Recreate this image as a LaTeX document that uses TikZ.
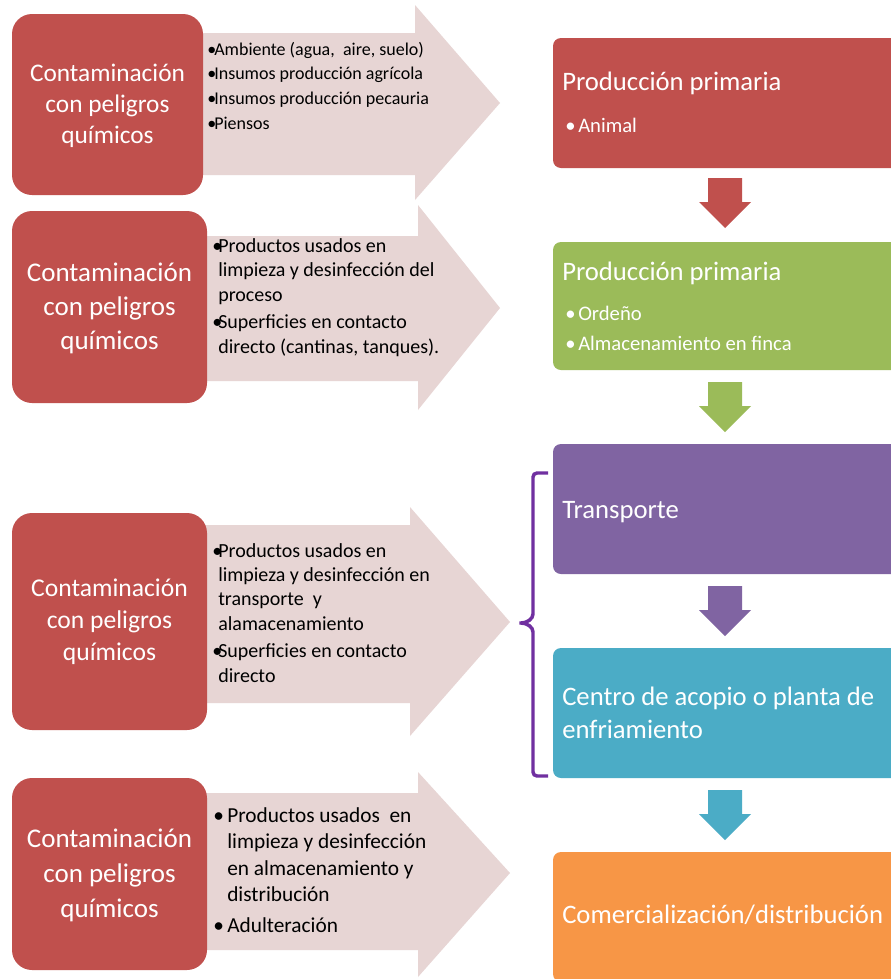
\documentclass[tikz,border=0pt]{standalone}
\usepackage{fontspec}
\setmainfont{Carlito}
\definecolor{cred}{HTML}{C0504D}
\definecolor{cgreen}{HTML}{9BBB59}
\definecolor{cpurple}{HTML}{8064A2}
\definecolor{cteal}{HTML}{4BACC6}
\definecolor{corange}{HTML}{F79646}
\definecolor{cpink}{HTML}{E7D5D4}
\definecolor{cbrace}{HTML}{7030A0}
\newcommand\blockdown[2]{\fill[#1] (708,#2) -- (742,#2) -- (742,{#2+24}) -- (751,{#2+24}) -- (725,{#2+50}) -- (699,{#2+24}) -- (708,{#2+24}) -- cycle;}
\newcommand\bigarrow[6]{\fill[cpink] (#1,#2) -- (#3,#2) -- (#3,#4) -- (#5,{(#4+#6)/2}) -- (#3,#6) -- (#3,{#2+#2-#2}) -- cycle;}
\newcommand\bl[1]{\makebox[#1][l]{\textbullet}}
\begin{document}
\begin{tikzpicture}[x=0.75pt,y=-0.75pt,
  lbox/.style={fill=cred, rounded corners=15pt, inner sep=0pt, draw=none},
  rbox/.style={rounded corners=6pt, inner sep=0pt, draw=none, minimum width=264pt},
  ltxt/.style={text=white, anchor=base, inner sep=0pt},
  atxt/.style={text=black, anchor=base west, inner sep=0pt},
  rtxt/.style={text=white, anchor=base west, inner sep=0pt},
  brace/.style={draw=cbrace, line width=2.6pt, rounded corners=3pt}]
\useasboundingbox (0,0) rectangle (891,979);
\clip (0,0) rectangle (891,979);
\fill[white] (0,0) rectangle (891,979);

% big pink arrows
\fill[cpink] (190,33) -- (415,33) -- (415,5) -- (500,103) -- (415,200) -- (415,175) -- (190,175) -- cycle;
\fill[cpink] (195,236) -- (418,236) -- (418,205) -- (500,308) -- (418,410) -- (418,381) -- (195,381) -- cycle;
\fill[cpink] (195,525) -- (410,525) -- (410,507) -- (510,622) -- (410,736) -- (410,703) -- (195,703) -- cycle;
\fill[cpink] (195,793) -- (418,793) -- (418,772) -- (510,873) -- (418,977) -- (418,950) -- (195,950) -- cycle;

% left boxes
\node[lbox, minimum width=143.25pt, minimum height=135.75pt] (b1) at (107.5,104.5) {};
\node[lbox, minimum width=146.25pt, minimum height=144pt] (b2) at (109.5,307) {};
\node[lbox, minimum width=146.25pt, minimum height=162.75pt] (b3) at (109.5,621.5) {};
\node[lbox, minimum width=146.25pt, minimum height=144pt] (b4) at (109.5,874) {};

\node[ltxt, font=\fontsize{19}{23.6}\selectfont] (b1t) at (107.5,81)
  {\begin{tabular}[t]{@{}c@{}}Contaminación\\con peligros\\químicos\end{tabular}};
\node[ltxt, font=\fontsize{20.25}{25.5}\selectfont] (b2t) at (109.5,281)
  {\begin{tabular}[t]{@{}c@{}}Contaminación\\con peligros\\químicos\end{tabular}};
\node[ltxt, font=\fontsize{19.2}{24}\selectfont] (b3t) at (109.5,596)
  {\begin{tabular}[t]{@{}c@{}}Contaminación\\con peligros\\químicos\end{tabular}};
\node[ltxt, font=\fontsize{20.25}{26.25}\selectfont] (b4t) at (109.5,847)
  {\begin{tabular}[t]{@{}c@{}}Contaminación\\con peligros\\químicos\end{tabular}};

% arrow texts
\node[atxt, font=\fontsize{13.5}{18.6}\selectfont] (a1t) at (207,55)
  {\begin{tabular}[t]{@{}l@{}l@{}}\bl{5.25pt}&Ambiente (agua,\ \ aire, suelo)\\
   \bl{5.25pt}&Insumos producción agrícola\\
   \bl{5.25pt}&Insumos producción pecauria\\
   \bl{5.25pt}&Piensos\end{tabular}};
\node[atxt, font=\fontsize{15}{18.4}\selectfont] (a2t) at (212,252)
  {\begin{tabular}[t]{@{}l@{}l@{}}\bl{4.5pt}&Productos usados en\\
   &limpieza y desinfección del\\
   &proceso\\[2.5pt]
   \bl{4.5pt}&Superficies en contacto\\
   &directo (cantinas, tanques).\end{tabular}};
\node[atxt, font=\fontsize{15}{18.3}\selectfont] (a3t) at (212,557)
  {\begin{tabular}[t]{@{}l@{}l@{}}\bl{4.5pt}&Productos usados en\\
   &limpieza y desinfección en\\
   &transporte\ \ y\\
   &alamacenamiento\\[2.5pt]
   \bl{4.5pt}&Superficies en contacto\\
   &directo\end{tabular}};
\node[atxt, font=\fontsize{16}{19.9}\selectfont] (a4t) at (213,822)
  {\begin{tabular}[t]{@{}l@{}l@{}}\bl{10.5pt}&Productos usados\ \ en\\
   &limpieza y desinfección\\
   &en almacenamiento y\\
   &distribución\\[3.5pt]
   \bl{10.5pt}&Adulteración\end{tabular}};

% right boxes
\node[rbox, fill=cred, minimum height=97.5pt] (r1) at (729,103) {};
\node[rbox, fill=cgreen, minimum height=96pt] (r2) at (729,306) {};
\node[rbox, fill=cpurple, minimum height=97.5pt] (r3) at (729,509) {};
\node[rbox, fill=cteal, minimum height=97.5pt] (r4) at (729,713) {};
\node[rbox, fill=corange, minimum height=97.5pt] (r5) at (729,917) {};

\node[rtxt, font=\fontsize{20}{24}\selectfont] (r1t) at (562,90) {Producción primaria};
\node[rtxt, font=\fontsize{15.5}{22.5}\selectfont] (r1b) at (565,132)
  {\begin{tabular}[t]{@{}l@{}l@{}}\bl{9.75pt}&Animal\end{tabular}};
\node[rtxt, font=\fontsize{20}{24}\selectfont] (r2t) at (562,280) {Producción primaria};
\node[rtxt, font=\fontsize{15.5}{22.5}\selectfont] (r2b) at (565,320)
  {\begin{tabular}[t]{@{}l@{}l@{}}\bl{9.75pt}&Ordeño\\ \bl{9.75pt}&Almacenamiento en finca\end{tabular}};
\node[rtxt, font=\fontsize{20}{24}\selectfont] (r3t) at (562,518) {Transporte};
\node[rtxt, font=\fontsize{20}{24.75}\selectfont] (r4t) at (562,705)
  {\begin{tabular}[t]{@{}l@{}}Centro de acopio o planta de\\enfriamiento\end{tabular}};
\node[rtxt, font=\fontsize{20}{24}\selectfont] (r5t) at (562,923) {Comercialización/distribución};

% down block arrows
\blockdown{cred}{178}
\blockdown{cgreen}{382}
\blockdown{cpurple}{586}
\blockdown{cteal}{790}

% brace
\coordinate (bt) at (548,473);
\coordinate (bb) at (548,776);
\coordinate (bm) at (517,623);
\draw[brace] (bt) -- (533,473) -- (533,610) .. controls (533,619) and (527,623) .. (bm)
  .. controls (527,623) and (533,627) .. (533,636) -- (533,776) -- (bb);
\end{tikzpicture}
\end{document}
